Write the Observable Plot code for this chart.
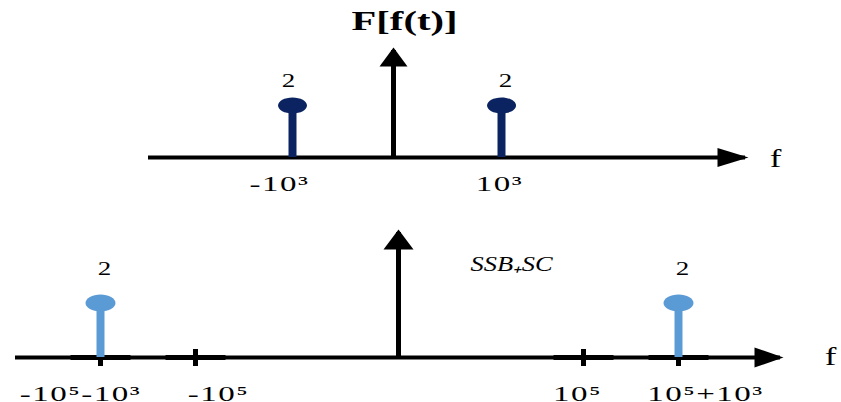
<!DOCTYPE html>
<html>
<head>
<meta charset="utf-8">
<script src="https://cdn.jsdelivr.net/npm/d3@7"></script>
<script src="https://cdn.jsdelivr.net/npm/@observablehq/plot@0.6"></script>
<style>
  html, body { margin: 0; padding: 0; background: #fff; overflow: hidden; }
  #chart svg { display: block; }
  g[aria-description="ticklabel"] text { letter-spacing: 1px; }
</style>
</head>
<body>
<div id="chart"></div>
<script>
// ---- Data ----
const topTitle = "F[f(t)]";
const topFreqs = [-1000, 1000];
const topAmps = [2, 2];
const topTickLabels = ["-10³", "10³"];

const bottomFreqs = [-101000, 101000];
const bottomAmps = [2, 2];
const bottomTicks = [-101000, -100000, 100000, 101000];
const bottomTickLabels = ["-10⁵-10³", "-10⁵", "10⁵", "10⁵+10³"];
const bottomNote = "SSB₊SC";
const axisName = "f";

// schematic (non-proportional) frequency axes: knots and where they sit
const topKnots = [-1000, 0, 1000];
const topKnotPos = [292, 393, 501];
const bottomKnots = [-101000, -100000, 0, 100000, 101000];
const bottomKnotPos = [100, 195, 398, 583, 678];

// ---- Styles ----
const NAVY = "#0b2461";
const LIGHT = "#5b9bd5";
const FONT = "'Liberation Serif', 'Times New Roman', serif";
// the original artwork is horizontally stretched; widen glyphs accordingly
const STRETCH = {ticklabel: 1.5, amp: 1.5, axisname: 1.4, title: 1.45, note: 1.2};

function head(w, L) {
  return {draw(ctx) { ctx.moveTo(0, -3); ctx.lineTo(w / 2, L - 3); ctx.lineTo(-w / 2, L - 3); ctx.closePath(); }};
}
function ellipse(rx, ry) {
  return {draw(ctx) {
    const kx = rx * 0.5523, ky = ry * 0.5523;
    ctx.moveTo(rx, 0);
    ctx.bezierCurveTo(rx, ky, kx, ry, 0, ry);
    ctx.bezierCurveTo(-kx, ry, -rx, ky, -rx, 0);
    ctx.bezierCurveTo(-rx, -ky, -kx, -ry, 0, -ry);
    ctx.bezierCurveTo(kx, -ry, rx, -ky, rx, 0);
    ctx.closePath();
  }};
}
const tickCross = {draw(ctx) {
  ctx.rect(-30, -2.5, 60, 5);
  ctx.rect(-2.5, -8.5, 5, 17);
}};

const topData = topFreqs.map((f, i) => ({f, a: topAmps[i], label: topTickLabels[i]}));
const bottomStems = bottomFreqs.map((f, i) => ({f, a: bottomAmps[i]}));
const bottomTickData = bottomTicks.map((f, i) => ({f, label: bottomTickLabels[i]}));

const topMap = d3.scaleLinear().domain(topKnots).range(topKnotPos);
const bottomMap = d3.scaleLinear().domain(bottomKnots).range(bottomKnotPos);

const topPlot = Plot.plot({
  width: 841, height: 200,
  marginLeft: 148, marginRight: 96, marginTop: 50, marginBottom: 43,
  style: {fontFamily: FONT, background: "white", overflow: "visible"},
  x: {axis: null, transform: topMap, domain: [148, 745]},
  y: {axis: null, domain: [0, 2], range: [157, 105]},
  marks: [
    Plot.ruleY([0], {stroke: "black", strokeWidth: 4}),
    Plot.dot([0], {y: d => d, frameAnchor: "right", symbol: head(19, 31), rotate: 90, fill: "black", stroke: "none", r: 5}),
    Plot.ruleX([0], {stroke: "black", strokeWidth: 5}),
    Plot.dot([0], {x: d => d, frameAnchor: "top", symbol: head(28, 19), fill: "black", stroke: "none", r: 5}),
    Plot.ruleX(topData, {x: "f", y1: 0, y2: "a", stroke: NAVY, strokeWidth: 8}),
    Plot.dot(topData, {x: "f", y: "a", symbol: ellipse(14.5, 8), fill: NAVY, stroke: "none", r: 5}),
    Plot.text([topData[0]], {x: "f", y: "a", text: d => String(d.a), dy: -24, dx: -4, fontSize: 18, fill: "black", ariaDescription: "amp"}),
    Plot.text([topData[1]], {x: "f", y: "a", text: d => String(d.a), dy: -24, dx: 4, fontSize: 18, fill: "black", ariaDescription: "amp"}),
    Plot.text([topData[0]], {x: "f", y: () => 0, text: "label", dy: 26, dx: -13, fontSize: 22, fill: "black", ariaDescription: "ticklabel"}),
    Plot.text([topData[1]], {x: "f", y: () => 0, text: "label", dy: 26, dx: -2, fontSize: 22, fill: "black", ariaDescription: "ticklabel"}),
    Plot.text([axisName], {y: () => 0, text: d => d, frameAnchor: "right", textAnchor: "middle", lineAnchor: "middle", dx: 30, dy: 1, fontSize: 25, ariaDescription: "axisname"}),
    Plot.text([topTitle], {x: () => 0, text: d => d, frameAnchor: "top", lineAnchor: "middle", dy: -29, dx: 11, fontSize: 28, fontWeight: "bold", ariaDescription: "title"})
  ]
});

const bottomPlot = Plot.plot({
  width: 841, height: 202,
  marginLeft: 15, marginRight: 61, marginTop: 32, marginBottom: 45,
  style: {fontFamily: FONT, background: "white", overflow: "visible"},
  x: {axis: null, transform: bottomMap, domain: [15, 780]},
  y: {axis: null, domain: [0, 2], range: [157, 102.5]},
  marks: [
    Plot.ruleY([0], {stroke: "black", strokeWidth: 4}),
    Plot.dot(bottomTickData, {x: "f", y: () => 0, symbol: tickCross, fill: "black", stroke: "none", r: 5}),
    Plot.dot([0], {y: d => d, frameAnchor: "right", symbol: head(20, 29), rotate: 90, fill: "black", stroke: "none", r: 5}),
    Plot.ruleX([0], {stroke: "black", strokeWidth: 5}),
    Plot.dot([0], {x: d => d, frameAnchor: "top", symbol: head(30, 20), fill: "black", stroke: "none", r: 5}),
    Plot.ruleX(bottomStems, {x: "f", y1: 0, y2: "a", stroke: LIGHT, strokeWidth: 8}),
    Plot.dot(bottomStems, {x: "f", y: "a", symbol: ellipse(15, 8.5), fill: LIGHT, stroke: "none", r: 5}),
    Plot.text(bottomStems, {x: "f", y: "a", text: d => String(d.a), dy: -34, dx: 4, fontSize: 18, fill: "black", ariaDescription: "amp"}),
    ...bottomTickData.map((d, i) => Plot.text([d], {x: "f", y: () => 0, text: "label", dy: 36, dx: [-20, 23, -6, 27][i], fontSize: 22, fill: "black", ariaDescription: "ticklabel"})),
    Plot.text([axisName], {y: () => 0, text: d => d, frameAnchor: "right", textAnchor: "middle", lineAnchor: "middle", dx: 50, dy: -1, fontSize: 25, ariaDescription: "axisname"}),
    Plot.text([bottomNote], {x: () => 0, text: d => d, frameAnchor: "top", textAnchor: "start", lineAnchor: "middle", dx: 72, dy: 31, fontSize: 22, fontStyle: "italic", ariaDescription: "note"})
  ]
});

// widen glyphs of each text group (style only)
for (const svg of [topPlot, bottomPlot]) {
  for (const [key, s] of Object.entries(STRETCH)) {
    svg.querySelectorAll(`g[aria-description="${key}"] text`).forEach(t => {
      const tr = t.getAttribute("transform") || "";
      t.setAttribute("transform", `${tr} scale(${s},1)`);
    });
  }
}

const chart = document.getElementById("chart");
chart.appendChild(topPlot);
chart.appendChild(bottomPlot);
</script>
</body>
</html>
